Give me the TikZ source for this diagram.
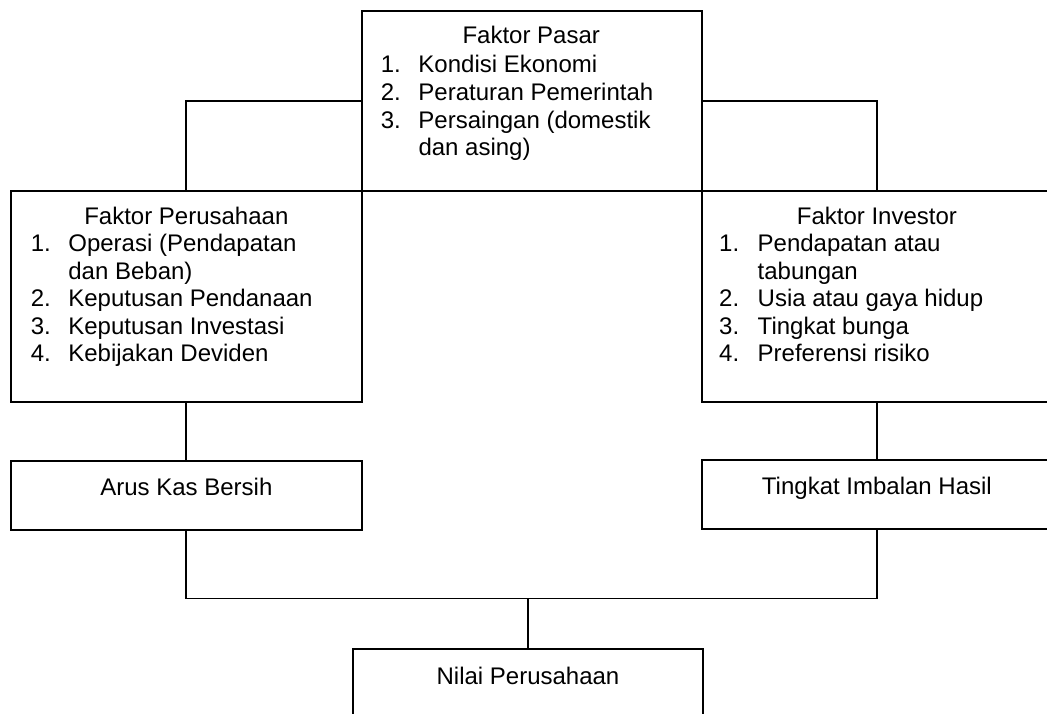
\documentclass[tikz,border=0pt]{standalone}
\usepackage{fontspec}
\setmainfont{Liberation Sans}
\begin{document}
\begin{tikzpicture}[x=1pt,y=-1pt,
  box/.style={draw=black, line width=1.9pt, rectangle, inner sep=0pt},
  conn/.style={draw=black, line width=1.9pt},
  txt/.style={inner sep=0pt, font=\fontsize{24}{27.6}\selectfont},
]
\useasboundingbox (0,0) rectangle (1047,713);
\clip (0,0) rectangle (1047,713);
% boxes
\node[box, minimum width=340pt, minimum height=180.3pt] (pasar) at (531.7,100.85) {};
\node[box, minimum width=350.7pt, minimum height=210.7pt] (perus) at (186.35,296.35) {};
\node[box, minimum width=350.7pt, minimum height=210.7pt] (investor) at (876.9,296.35) {};
\node[box, minimum width=350.7pt, minimum height=69pt] (arus) at (186.35,495.5) {};
\node[box, minimum width=350.7pt, minimum height=69pt] (tingkat) at (876.9,494.8) {};
\node[box, minimum width=350.6pt, minimum height=69pt] (nilai) at (528,683.5) {};
\coordinate (junc) at (528,598.5);
% connectors
\draw[conn] (pasar.west) -| (perus.north);
\draw[conn] (pasar.east) -| (investor.north);
\draw[conn] (perus.south) -- (arus.north);
\draw[conn] (investor.south) -- (tingkat.north);
\draw[conn] (arus.south) |- (junc) -| (tingkat.south);
\draw[conn] (junc) -- (nilai.north);
% texts
\node[txt, anchor=base] (tpasar) at (531.2,43.3) {Faktor Pasar};
\node[txt, anchor=base west] (lpasar) at (380.7,72.8) {\begin{tabular}[t]{@{}p{37.6pt}@{}l@{}}
1. & Kondisi Ekonomi\\
2. & Peraturan Pemerintah\\
3. & Persaingan (domestik\\
   & dan asing)
\end{tabular}};
\node[txt, anchor=base] (tperus) at (186.35,224.3) {Faktor Perusahaan};
\node[txt, anchor=base west] (lperus) at (30.7,251.5) {\begin{tabular}[t]{@{}p{37.5pt}@{}l@{}}
1. & Operasi (Pendapatan\\
   & dan Beban)\\
2. & Keputusan Pendanaan\\
3. & Keputusan Investasi\\
4. & Kebijakan Deviden
\end{tabular}};
\node[txt, anchor=base] (tinv) at (876.9,224.3) {Faktor Investor};
\node[txt, anchor=base west] (linv) at (719,251.5) {\begin{tabular}[t]{@{}p{38.5pt}@{}l@{}}
1. & Pendapatan atau\\
   & tabungan\\
2. & Usia atau gaya hidup\\
3. & Tingkat bunga\\
4. & Preferensi risiko
\end{tabular}};
\node[txt, anchor=base] (tarus) at (186.35,495) {Arus Kas Bersih};
\node[txt, anchor=base] (ttingkat) at (876.9,494.3) {Tingkat Imbalan Hasil};
\node[txt, anchor=base] (tnilai) at (528,684) {Nilai Perusahaan};
\end{tikzpicture}
\end{document}
